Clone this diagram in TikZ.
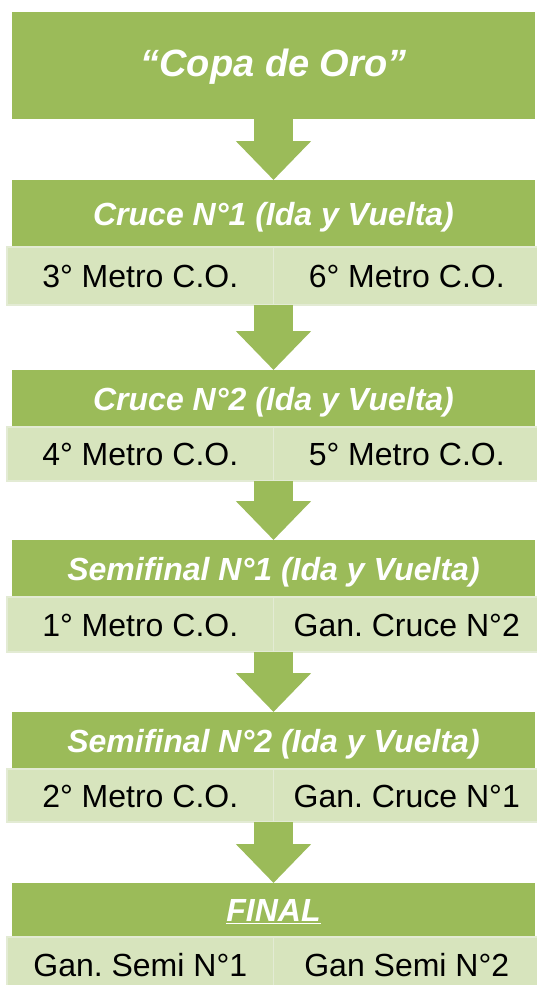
\documentclass[tikz,border=0pt]{standalone}
\usepackage{fontspec}
\setmainfont{Liberation Sans}
\usetikzlibrary{arrows.meta}
\frenchspacing
\definecolor{verde}{HTML}{9BBB59}
\definecolor{verdino}{HTML}{D7E4BD}
\definecolor{bordino}{HTML}{E3EBD4}
\tikzset{
  titolo/.style={fill=verde, text=white, anchor=north west, inner sep=0pt, outer sep=0pt,
    minimum width=523pt, text height=23pt, text depth=0pt,
    font=\fontsize{32}{38}\selectfont\bfseries\itshape},
  squadra/.style={fill=verdino, draw=bordino, line width=1.5pt, anchor=north west, inner sep=0pt,
    outer sep=0pt, minimum width=266.5pt, text height=23pt, text depth=0pt,
    font=\fontsize{32}{38}\selectfont},
  freccia/.style={draw=verde, line width=39pt, -{Triangle[width=73pt,length=39pt]}}
}
\begin{document}
\begin{tikzpicture}[x=1pt,y=1pt]
                \useasboundingbox (0,0) rectangle (536,-985);
                %copa + 5 fasi
                \node[titolo, minimum height=107pt, text height=27pt, text depth=6pt,
                  font=\fontsize{38}{44}\selectfont\bfseries\itshape] (copa) at (12,-12) {``Copa de Oro''};

                \node[titolo, minimum height=67pt] (c1) at (12,-180) {Cruce N°1 (Ida y Vuelta)};
                \node[squadra, minimum height=58pt] (c1a) at (7,-247) {3° Metro C.O.};
                \node[squadra, minimum height=58pt] (c1b) at (273.5,-247) {6° Metro C.O.};

                \node[titolo, minimum height=57pt] (c2) at (12,-370) {Cruce N°2 (Ida y Vuelta)};
                \node[squadra, minimum height=54pt] (c2a) at (7,-427) {4° Metro C.O.};
                \node[squadra, minimum height=54pt] (c2b) at (273.5,-427) {5° Metro C.O.};

                \node[titolo, minimum height=57pt] (s1) at (12,-540) {Semifinal N°1 (Ida y Vuelta)};
                \node[squadra, minimum height=55pt] (s1a) at (7,-597) {1° Metro C.O.};
                \node[squadra, minimum height=55pt] (s1b) at (273.5,-597) {Gan. Cruce N°2};

                \node[titolo, minimum height=57pt] (s2) at (12,-712) {Semifinal N°2 (Ida y Vuelta)};
                \node[squadra, minimum height=53pt] (s2a) at (7,-769) {2° Metro C.O.};
                \node[squadra, minimum height=53pt] (s2b) at (273.5,-769) {Gan. Cruce N°1};

                \node[titolo, minimum height=54pt] (f) at (12,-883) {\underline{FINAL}};
                \node[squadra, minimum height=55pt] (fa) at (7,-937) {Gan. Semi N°1};
                \node[squadra, minimum height=55pt] (fb) at (273.5,-937) {Gan Semi N°2};

                \draw[freccia] (copa.south) -- (c1.north);
                \draw[freccia] (c1a.south east) -- (c2.north);
                \draw[freccia] (c2a.south east) -- (s1.north);
                \draw[freccia] (s1a.south east) -- (s2.north);
                \draw[freccia] (s2a.south east) -- (f.north);

            \end{tikzpicture}
\end{document}
